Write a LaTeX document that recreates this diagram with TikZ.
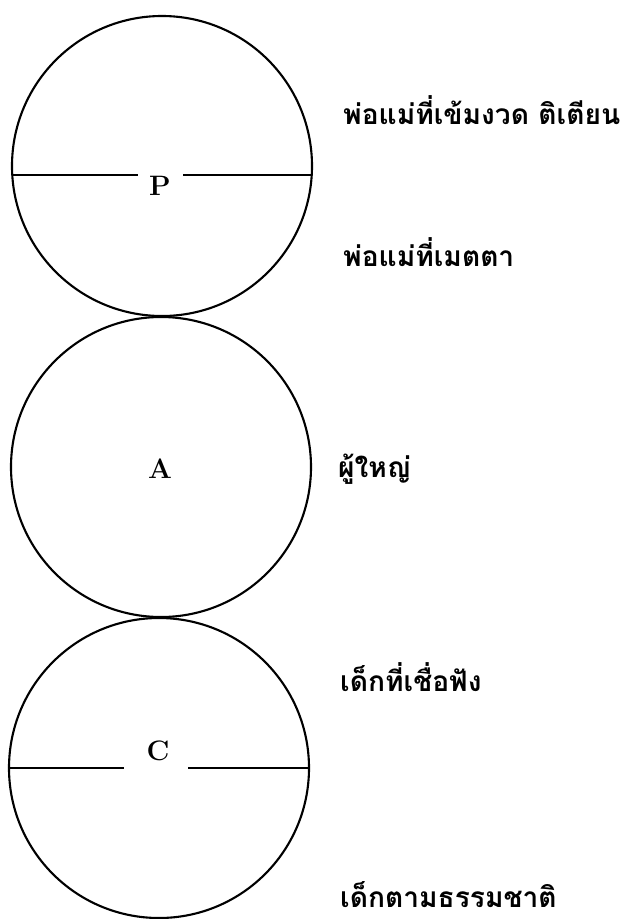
\documentclass[tikz,border=0pt]{standalone}
\usepackage{fontspec}
\newfontfamily\thaifont[Script=Thai]{Loma}
\begin{document}
\begin{tikzpicture}[x=0.3mm, y=-0.3mm,
    ring/.style={draw, circle, line width=1.8pt, minimum size=90mm, inner sep=0pt},
    split/.style={line width=1.8pt},
    letter/.style={font=\fontsize{24}{28}\selectfont\bfseries},
    lbl/.style={font=\thaifont\bfseries\fontsize{24}{28}\selectfont, anchor=base west, inner sep=0pt}]
    \useasboundingbox (0,0) rectangle (623,919);
    % three ego states
    \node[ring] (parent) at (162,166) {};
    \node[ring] (adult) at (161,467) {};
    \node[ring] (child) at (159,768) {};

    \node[letter] (p) at (160,186) {P};
    \node[letter] (a) at (160,469) {A};
    \node[letter] (c) at (158,751) {C};

    % split lines
    \coordinate (pl1) at (12,175);
    \coordinate (pl2) at (138,175);
    \coordinate (pr1) at (183,175);
    \coordinate (pr2) at (312,175);
    \coordinate (cl) at (124,768);
    \coordinate (cr) at (188,768);
    \draw[split] (pl1) -- (pl2);
    \draw[split] (pr1) -- (pr2);
    \draw[split] (child.west) -- (cl);
    \draw[split] (cr) -- (child.east);

    % labels
    \node[lbl] (pstrict) at (343,124) {พ่อแม่ที่เข้มงวด ติเตียน};
    \node[lbl] (pkind) at (343,266) {พ่อแม่ที่เมตตา};
    \node[lbl] (agrown) at (338,477) {ผู้ใหญ่};
    \node[lbl] (cobey) at (340,691) {เด็กที่เชื่อฟัง};
    \node[lbl] (cfree) at (340,907) {เด็กตามธรรมชาติ};
\end{tikzpicture}
\end{document}
